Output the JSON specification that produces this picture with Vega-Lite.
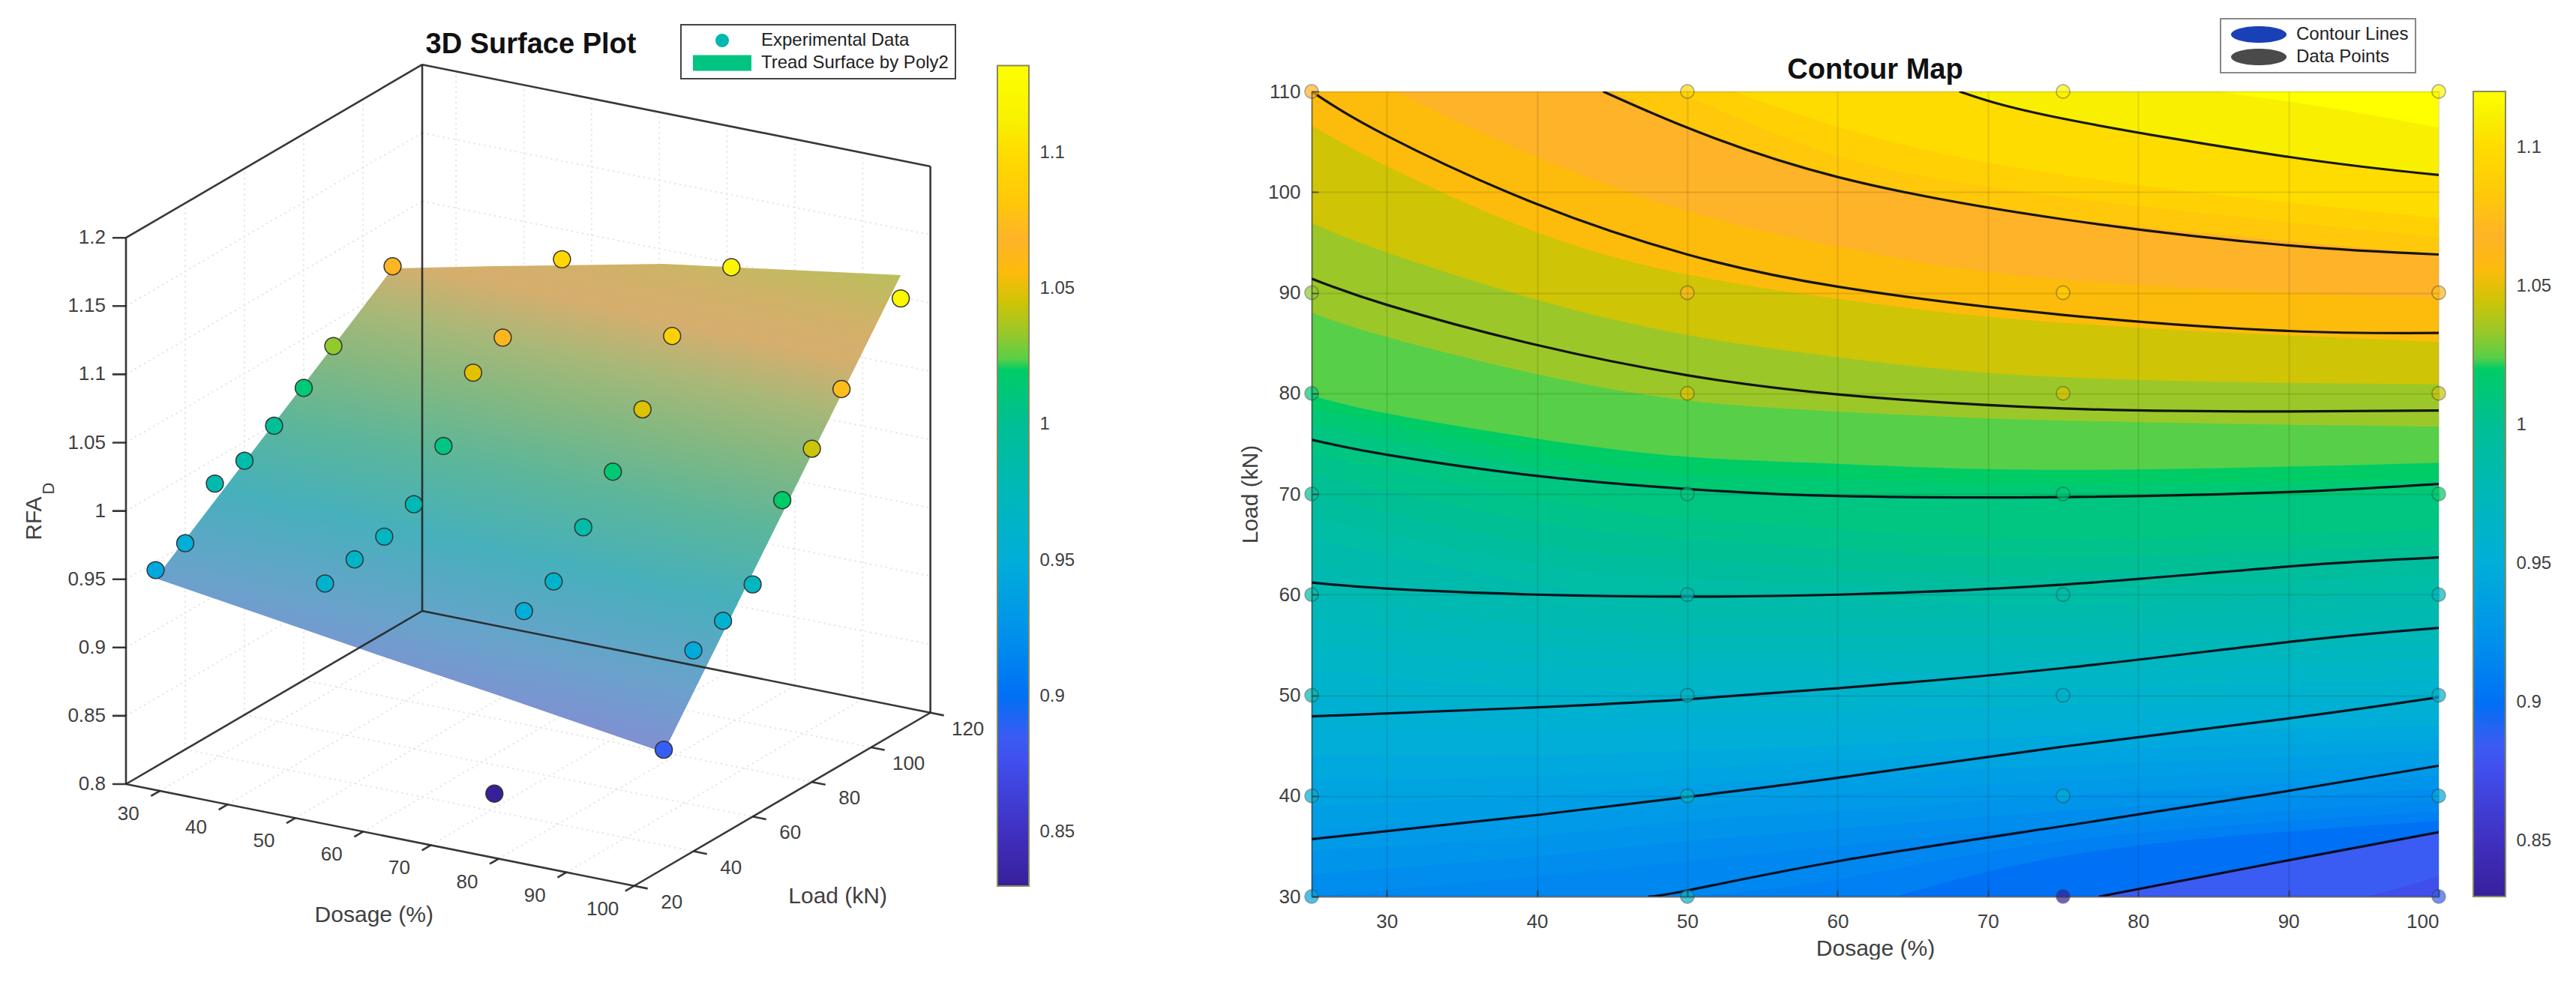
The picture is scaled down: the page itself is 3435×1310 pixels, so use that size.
{
"$schema":"https://vega.github.io/schema/vega-lite/v6.json",
"padding":0,
"background":"white",
"bounds":"flush",
"spacing":46,
"resolve":{"scale":{"fill":"independent","color":"independent"},"legend":{"fill":"independent","color":"independent"}},
"config":{"font":"Liberation Sans","view":{"stroke":null},"axis":{"labelFontSize":26,"labelColor":"#404040","titleFontSize":30,"titleColor":"#404040","titleFontWeight":"normal"}},
"datasets":{
"points":[
{"dosage":25,"load":30,"rfa":0.944},{"dosage":25,"load":40,"rfa":0.951},{"dosage":25,"load":50,"rfa":0.982},{"dosage":25,"load":60,"rfa":0.986},{"dosage":25,"load":70,"rfa":0.999},{"dosage":25,"load":80,"rfa":1.014},{"dosage":25,"load":90,"rfa":1.032},{"dosage":25,"load":110,"rfa":1.065},
{"dosage":50,"load":30,"rfa":0.959},{"dosage":50,"load":40,"rfa":0.964},{"dosage":50,"load":50,"rfa":0.968},{"dosage":50,"load":60,"rfa":0.979},{"dosage":50,"load":70,"rfa":1.009},{"dosage":50,"load":80,"rfa":1.05},{"dosage":50,"load":90,"rfa":1.063},{"dosage":50,"load":110,"rfa":1.095},
{"dosage":75,"load":30,"rfa":0.83},{"dosage":75,"load":40,"rfa":0.951},{"dosage":75,"load":50,"rfa":0.96},{"dosage":75,"load":60,"rfa":0.987},{"dosage":75,"load":70,"rfa":1.015},{"dosage":75,"load":80,"rfa":1.048},{"dosage":75,"load":90,"rfa":1.089},{"dosage":75,"load":110,"rfa":1.114},
{"dosage":100,"load":30,"rfa":0.887},{"dosage":100,"load":40,"rfa":0.947},{"dosage":100,"load":50,"rfa":0.956},{"dosage":100,"load":60,"rfa":0.97},{"dosage":100,"load":70,"rfa":1.019},{"dosage":100,"load":80,"rfa":1.044},{"dosage":100,"load":90,"rfa":1.075},{"dosage":100,"load":110,"rfa":1.116}],
"surface":[
{"dosage":25,"load":30,"rfa":0.938,"dosage2":25,"load2":30,"rfa2":0.938},
{"dosage":25,"load":110,"rfa":1.0635,"dosage2":60,"load2":30,"rfa2":0.913},
{"dosage":40,"load":110,"rfa":1.08,"dosage2":75,"load2":30,"rfa2":0.903},
{"dosage":65,"load":110,"rfa":1.1065,"dosage2":100,"load2":30,"rfa2":0.885},
{"dosage":100,"load":110,"rfa":1.133,"dosage2":100,"load2":110,"rfa2":1.133}],
"edges":[
{"dosage":25,"load":20,"rfa":0.8,"dosage2":25,"load2":20,"rfa2":1.2},
{"dosage":25,"load":120,"rfa":0.8,"dosage2":25,"load2":120,"rfa2":1.2},
{"dosage":100,"load":120,"rfa":0.8,"dosage2":100,"load2":120,"rfa2":1.2},
{"dosage":25,"load":20,"rfa":1.2,"dosage2":25,"load2":120,"rfa2":1.2},
{"dosage":25,"load":120,"rfa":1.2,"dosage2":100,"load2":120,"rfa2":1.2},
{"dosage":25,"load":20,"rfa":0.8,"dosage2":100,"load2":20,"rfa2":0.8},
{"dosage":100,"load":20,"rfa":0.8,"dosage2":100,"load2":120,"rfa2":0.8},
{"dosage":25,"load":120,"rfa":0.8,"dosage2":100,"load2":120,"rfa2":0.8},
{"dosage":25,"load":20,"rfa":0.8,"dosage2":25,"load2":120,"rfa2":0.8},
{"dosage":30,"load":20,"rfa":0.8,"dosage2":30,"load2":17,"rfa2":0.8},{"dosage":40,"load":20,"rfa":0.8,"dosage2":40,"load2":17,"rfa2":0.8},{"dosage":50,"load":20,"rfa":0.8,"dosage2":50,"load2":17,"rfa2":0.8},{"dosage":60,"load":20,"rfa":0.8,"dosage2":60,"load2":17,"rfa2":0.8},{"dosage":70,"load":20,"rfa":0.8,"dosage2":70,"load2":17,"rfa2":0.8},{"dosage":80,"load":20,"rfa":0.8,"dosage2":80,"load2":17,"rfa2":0.8},{"dosage":90,"load":20,"rfa":0.8,"dosage2":90,"load2":17,"rfa2":0.8},{"dosage":100,"load":20,"rfa":0.8,"dosage2":100,"load2":17,"rfa2":0.8},
{"dosage":100,"load":20,"rfa":0.8,"dosage2":102,"load2":20,"rfa2":0.8},{"dosage":100,"load":40,"rfa":0.8,"dosage2":102,"load2":40,"rfa2":0.8},{"dosage":100,"load":60,"rfa":0.8,"dosage2":102,"load2":60,"rfa2":0.8},{"dosage":100,"load":80,"rfa":0.8,"dosage2":102,"load2":80,"rfa2":0.8},{"dosage":100,"load":100,"rfa":0.8,"dosage2":102,"load2":100,"rfa2":0.8},{"dosage":100,"load":120,"rfa":0.8,"dosage2":102,"load2":120,"rfa2":0.8},
{"dosage":25,"load":20,"rfa":0.8,"dosage2":23,"load2":20,"rfa2":0.798},{"dosage":25,"load":20,"rfa":0.85,"dosage2":23,"load2":20,"rfa2":0.848},{"dosage":25,"load":20,"rfa":0.9,"dosage2":23,"load2":20,"rfa2":0.898},{"dosage":25,"load":20,"rfa":0.95,"dosage2":23,"load2":20,"rfa2":0.948},{"dosage":25,"load":20,"rfa":1,"dosage2":23,"load2":20,"rfa2":0.998},{"dosage":25,"load":20,"rfa":1.05,"dosage2":23,"load2":20,"rfa2":1.048},{"dosage":25,"load":20,"rfa":1.1,"dosage2":23,"load2":20,"rfa2":1.098},{"dosage":25,"load":20,"rfa":1.15,"dosage2":23,"load2":20,"rfa2":1.148},{"dosage":25,"load":20,"rfa":1.2,"dosage2":23,"load2":20,"rfa2":1.198}],
"grid3d":[
{"dosage":30,"load":20,"rfa":0.8,"dosage2":30,"load2":120,"rfa2":0.8},{"dosage":40,"load":20,"rfa":0.8,"dosage2":40,"load2":120,"rfa2":0.8},{"dosage":50,"load":20,"rfa":0.8,"dosage2":50,"load2":120,"rfa2":0.8},{"dosage":60,"load":20,"rfa":0.8,"dosage2":60,"load2":120,"rfa2":0.8},{"dosage":70,"load":20,"rfa":0.8,"dosage2":70,"load2":120,"rfa2":0.8},{"dosage":80,"load":20,"rfa":0.8,"dosage2":80,"load2":120,"rfa2":0.8},{"dosage":90,"load":20,"rfa":0.8,"dosage2":90,"load2":120,"rfa2":0.8},
{"dosage":30,"load":120,"rfa":0.8,"dosage2":30,"load2":120,"rfa2":1.2},{"dosage":40,"load":120,"rfa":0.8,"dosage2":40,"load2":120,"rfa2":1.2},{"dosage":50,"load":120,"rfa":0.8,"dosage2":50,"load2":120,"rfa2":1.2},{"dosage":60,"load":120,"rfa":0.8,"dosage2":60,"load2":120,"rfa2":1.2},{"dosage":70,"load":120,"rfa":0.8,"dosage2":70,"load2":120,"rfa2":1.2},{"dosage":80,"load":120,"rfa":0.8,"dosage2":80,"load2":120,"rfa2":1.2},{"dosage":90,"load":120,"rfa":0.8,"dosage2":90,"load2":120,"rfa2":1.2},
{"dosage":25,"load":40,"rfa":0.8,"dosage2":100,"load2":40,"rfa2":0.8},{"dosage":25,"load":60,"rfa":0.8,"dosage2":100,"load2":60,"rfa2":0.8},{"dosage":25,"load":80,"rfa":0.8,"dosage2":100,"load2":80,"rfa2":0.8},{"dosage":25,"load":100,"rfa":0.8,"dosage2":100,"load2":100,"rfa2":0.8},
{"dosage":25,"load":40,"rfa":0.8,"dosage2":25,"load2":40,"rfa2":1.2},{"dosage":25,"load":60,"rfa":0.8,"dosage2":25,"load2":60,"rfa2":1.2},{"dosage":25,"load":80,"rfa":0.8,"dosage2":25,"load2":80,"rfa2":1.2},{"dosage":25,"load":100,"rfa":0.8,"dosage2":25,"load2":100,"rfa2":1.2},
{"dosage":25,"load":20,"rfa":0.85,"dosage2":25,"load2":120,"rfa2":0.85},{"dosage":25,"load":20,"rfa":0.9,"dosage2":25,"load2":120,"rfa2":0.9},{"dosage":25,"load":20,"rfa":0.95,"dosage2":25,"load2":120,"rfa2":0.95},{"dosage":25,"load":20,"rfa":1,"dosage2":25,"load2":120,"rfa2":1},{"dosage":25,"load":20,"rfa":1.05,"dosage2":25,"load2":120,"rfa2":1.05},{"dosage":25,"load":20,"rfa":1.1,"dosage2":25,"load2":120,"rfa2":1.1},{"dosage":25,"load":20,"rfa":1.15,"dosage2":25,"load2":120,"rfa2":1.15},
{"dosage":25,"load":120,"rfa":0.85,"dosage2":100,"load2":120,"rfa2":0.85},{"dosage":25,"load":120,"rfa":0.9,"dosage2":100,"load2":120,"rfa2":0.9},{"dosage":25,"load":120,"rfa":0.95,"dosage2":100,"load2":120,"rfa2":0.95},{"dosage":25,"load":120,"rfa":1,"dosage2":100,"load2":120,"rfa2":1},{"dosage":25,"load":120,"rfa":1.05,"dosage2":100,"load2":120,"rfa2":1.05},{"dosage":25,"load":120,"rfa":1.1,"dosage2":100,"load2":120,"rfa2":1.1},{"dosage":25,"load":120,"rfa":1.15,"dosage2":100,"load2":120,"rfa2":1.15}],
"zlabels":[{"label":"0.8","dosage":25,"load":20,"rfa":0.8},{"label":"0.85","dosage":25,"load":20,"rfa":0.85},{"label":"0.9","dosage":25,"load":20,"rfa":0.9},{"label":"0.95","dosage":25,"load":20,"rfa":0.95},{"label":"1","dosage":25,"load":20,"rfa":1},{"label":"1.05","dosage":25,"load":20,"rfa":1.05},{"label":"1.1","dosage":25,"load":20,"rfa":1.1},{"label":"1.15","dosage":25,"load":20,"rfa":1.15},{"label":"1.2","dosage":25,"load":20,"rfa":1.2}],
"dlabels":[{"label":"30","dosage":30,"load":20,"rfa":0.8},{"label":"40","dosage":40,"load":20,"rfa":0.8},{"label":"50","dosage":50,"load":20,"rfa":0.8},{"label":"60","dosage":60,"load":20,"rfa":0.8},{"label":"70","dosage":70,"load":20,"rfa":0.8},{"label":"80","dosage":80,"load":20,"rfa":0.8},{"label":"90","dosage":90,"load":20,"rfa":0.8},{"label":"100","dosage":100,"load":20,"rfa":0.8}],
"llabels":[{"label":"20","dosage":100,"load":20,"rfa":0.8},{"label":"40","dosage":100,"load":40,"rfa":0.8},{"label":"60","dosage":100,"load":60,"rfa":0.8},{"label":"80","dosage":100,"load":80,"rfa":0.8},{"label":"100","dosage":100,"load":100,"rfa":0.8},{"label":"120","dosage":100,"load":120,"rfa":0.8}],
"contours":[
{"line":1,"dosage":77.4,"load":30},{"line":1,"dosage":90,"load":33.6},{"line":1,"dosage":100,"load":36.4},
{"line":2,"dosage":47.4,"load":30},{"line":2,"dosage":50,"load":30.6},{"line":2,"dosage":60,"load":33.5},{"line":2,"dosage":75,"load":37},{"line":2,"dosage":90,"load":40.5},{"line":2,"dosage":100,"load":43},
{"line":3,"dosage":25,"load":35.7},{"line":3,"dosage":40,"load":38.1},{"line":3,"dosage":50,"load":39.9},{"line":3,"dosage":60,"load":41.8},{"line":3,"dosage":75,"load":44.9},{"line":3,"dosage":90,"load":47.7},{"line":3,"dosage":100,"load":49.8},
{"line":4,"dosage":25,"load":47.9},{"line":4,"dosage":40,"load":48.8},{"line":4,"dosage":50,"load":49.6},{"line":4,"dosage":60,"load":50.7},{"line":4,"dosage":75,"load":52.7},{"line":4,"dosage":90,"load":55.3},{"line":4,"dosage":100,"load":56.7},
{"line":5,"dosage":25,"load":61.2},{"line":5,"dosage":30,"load":60.6},{"line":5,"dosage":40,"load":60},{"line":5,"dosage":50,"load":59.8},{"line":5,"dosage":60,"load":60},{"line":5,"dosage":75,"load":61},{"line":5,"dosage":90,"load":62.8},{"line":5,"dosage":100,"load":63.7},
{"line":6,"dosage":25,"load":75.4},{"line":6,"dosage":30,"load":73.9},{"line":6,"dosage":40,"load":71.8},{"line":6,"dosage":50,"load":70.5},{"line":6,"dosage":60,"load":69.8},{"line":6,"dosage":75,"load":69.7},{"line":6,"dosage":90,"load":70.2},{"line":6,"dosage":100,"load":71},
{"line":7,"dosage":25,"load":91.4},{"line":7,"dosage":30,"load":88.8},{"line":7,"dosage":40,"load":84.8},{"line":7,"dosage":50,"load":81.8},{"line":7,"dosage":60,"load":79.9},{"line":7,"dosage":75,"load":78.5},{"line":7,"dosage":90,"load":78.2},{"line":7,"dosage":100,"load":78.3},
{"line":8,"dosage":25,"load":110},{"line":8,"dosage":30,"load":105.6},{"line":8,"dosage":40,"load":98.8},{"line":8,"dosage":50,"load":93.8},{"line":8,"dosage":60,"load":90.6},{"line":8,"dosage":75,"load":87.8},{"line":8,"dosage":90,"load":86.2},{"line":8,"dosage":100,"load":86},
{"line":9,"dosage":44.4,"load":110},{"line":9,"dosage":50,"load":106.4},{"line":9,"dosage":60,"load":101.5},{"line":9,"dosage":75,"load":97.3},{"line":9,"dosage":90,"load":94.7},{"line":9,"dosage":100,"load":93.8},
{"line":10,"dosage":68.1,"load":110},{"line":10,"dosage":75,"load":107.3},{"line":10,"dosage":90,"load":103.5},{"line":10,"dosage":100,"load":101.7}],
"levels":[
{"rfa":0.875,"dosage":25,"load":0},{"rfa":0.875,"dosage":100,"load":0},
{"rfa":0.885,"dosage":25,"load":4},{"rfa":0.885,"dosage":50,"load":10},{"rfa":0.885,"dosage":75,"load":21},{"rfa":0.885,"dosage":100,"load":32},
{"rfa":0.9,"dosage":25,"load":12},{"rfa":0.9,"dosage":50,"load":19},{"rfa":0.9,"dosage":60,"load":23},{"rfa":0.9,"dosage":75,"load":29.3},{"rfa":0.9,"dosage":90,"load":33.6},{"rfa":0.9,"dosage":100,"load":36.4},
{"rfa":0.91,"dosage":25,"load":22},{"rfa":0.91,"dosage":40,"load":25},{"rfa":0.91,"dosage":50,"load":27},{"rfa":0.91,"dosage":60,"load":28.5},{"rfa":0.91,"dosage":75,"load":34},{"rfa":0.91,"dosage":100,"load":37.5},
{"rfa":0.915,"dosage":25,"load":26},{"rfa":0.915,"dosage":40,"load":28.5},{"rfa":0.915,"dosage":50,"load":30},{"rfa":0.915,"dosage":60,"load":31.7},{"rfa":0.915,"dosage":75,"load":35.5},{"rfa":0.915,"dosage":100,"load":38.5},
{"rfa":0.92,"dosage":25,"load":30},{"rfa":0.92,"dosage":40,"load":32},{"rfa":0.92,"dosage":50,"load":33.5},{"rfa":0.92,"dosage":60,"load":35},{"rfa":0.92,"dosage":75,"load":37},{"rfa":0.92,"dosage":100,"load":39.5},
{"rfa":0.925,"dosage":25,"load":32.2},{"rfa":0.925,"dosage":40,"load":34},{"rfa":0.925,"dosage":50,"load":35.5},{"rfa":0.925,"dosage":60,"load":36.7},{"rfa":0.925,"dosage":75,"load":38.5},{"rfa":0.925,"dosage":100,"load":40.7},
{"rfa":0.93,"dosage":25,"load":34.5},{"rfa":0.93,"dosage":40,"load":36},{"rfa":0.93,"dosage":50,"load":37.5},{"rfa":0.93,"dosage":60,"load":38.5},{"rfa":0.93,"dosage":75,"load":40},{"rfa":0.93,"dosage":100,"load":42},
{"rfa":0.935,"dosage":25,"load":36.7},{"rfa":0.935,"dosage":40,"load":38},{"rfa":0.935,"dosage":50,"load":39.2},{"rfa":0.935,"dosage":60,"load":40.2},{"rfa":0.935,"dosage":75,"load":41.5},{"rfa":0.935,"dosage":100,"load":43.2},
{"rfa":0.94,"dosage":25,"load":39},{"rfa":0.94,"dosage":40,"load":40},{"rfa":0.94,"dosage":50,"load":41},{"rfa":0.94,"dosage":60,"load":42},{"rfa":0.94,"dosage":75,"load":43},{"rfa":0.94,"dosage":100,"load":44.5},
{"rfa":0.945,"dosage":25,"load":41.5},{"rfa":0.945,"dosage":40,"load":42},{"rfa":0.945,"dosage":50,"load":42.7},{"rfa":0.945,"dosage":60,"load":43.5},{"rfa":0.945,"dosage":75,"load":44.5},{"rfa":0.945,"dosage":100,"load":45.7},
{"rfa":0.95,"dosage":25,"load":44},{"rfa":0.95,"dosage":40,"load":44},{"rfa":0.95,"dosage":50,"load":44.5},{"rfa":0.95,"dosage":60,"load":45},{"rfa":0.95,"dosage":75,"load":46},{"rfa":0.95,"dosage":100,"load":47},
{"rfa":0.955,"dosage":25,"load":47},{"rfa":0.955,"dosage":40,"load":46.2},{"rfa":0.955,"dosage":50,"load":46.5},{"rfa":0.955,"dosage":60,"load":46.7},{"rfa":0.955,"dosage":75,"load":47.5},{"rfa":0.955,"dosage":100,"load":48.5},
{"rfa":0.96,"dosage":25,"load":50},{"rfa":0.96,"dosage":40,"load":48.5},{"rfa":0.96,"dosage":50,"load":48.5},{"rfa":0.96,"dosage":60,"load":48.5},{"rfa":0.96,"dosage":75,"load":49},{"rfa":0.96,"dosage":100,"load":50},
{"rfa":0.965,"dosage":25,"load":52.5},{"rfa":0.965,"dosage":40,"load":50.7},{"rfa":0.965,"dosage":50,"load":50.5},{"rfa":0.965,"dosage":60,"load":50.5},{"rfa":0.965,"dosage":75,"load":50.7},{"rfa":0.965,"dosage":100,"load":51.7},
{"rfa":0.97,"dosage":25,"load":55},{"rfa":0.97,"dosage":40,"load":53},{"rfa":0.97,"dosage":50,"load":52.5},{"rfa":0.97,"dosage":60,"load":52.5},{"rfa":0.97,"dosage":75,"load":52.5},{"rfa":0.97,"dosage":100,"load":53.5},
{"rfa":0.975,"dosage":25,"load":57.5},{"rfa":0.975,"dosage":40,"load":55},{"rfa":0.975,"dosage":50,"load":54.2},{"rfa":0.975,"dosage":60,"load":54.2},{"rfa":0.975,"dosage":75,"load":54.2},{"rfa":0.975,"dosage":100,"load":55.2},
{"rfa":0.98,"dosage":25,"load":60},{"rfa":0.98,"dosage":40,"load":57},{"rfa":0.98,"dosage":50,"load":56},{"rfa":0.98,"dosage":60,"load":56},{"rfa":0.98,"dosage":75,"load":56},{"rfa":0.98,"dosage":100,"load":57},
{"rfa":0.985,"dosage":25,"load":62.7},{"rfa":0.985,"dosage":40,"load":59},{"rfa":0.985,"dosage":50,"load":57.7},{"rfa":0.985,"dosage":60,"load":57.7},{"rfa":0.985,"dosage":75,"load":57.5},{"rfa":0.985,"dosage":100,"load":58.7},
{"rfa":0.99,"dosage":25,"load":65.5},{"rfa":0.99,"dosage":40,"load":61},{"rfa":0.99,"dosage":50,"load":59.5},{"rfa":0.99,"dosage":60,"load":59.5},{"rfa":0.99,"dosage":75,"load":59},{"rfa":0.99,"dosage":100,"load":60.5},
{"rfa":0.995,"dosage":25,"load":67.7},{"rfa":0.995,"dosage":40,"load":63},{"rfa":0.995,"dosage":50,"load":61.5},{"rfa":0.995,"dosage":60,"load":61},{"rfa":0.995,"dosage":75,"load":60.5},{"rfa":0.995,"dosage":100,"load":62},
{"rfa":1,"dosage":25,"load":70},{"rfa":1,"dosage":40,"load":65},{"rfa":1,"dosage":50,"load":63.5},{"rfa":1,"dosage":60,"load":62.5},{"rfa":1,"dosage":75,"load":62},{"rfa":1,"dosage":100,"load":63.5},
{"rfa":1.005,"dosage":25,"load":72},{"rfa":1.005,"dosage":40,"load":67.2},{"rfa":1.005,"dosage":50,"load":65.5},{"rfa":1.005,"dosage":60,"load":64.5},{"rfa":1.005,"dosage":75,"load":63.7},{"rfa":1.005,"dosage":100,"load":65},
{"rfa":1.01,"dosage":25,"load":74},{"rfa":1.01,"dosage":40,"load":69.5},{"rfa":1.01,"dosage":50,"load":67.5},{"rfa":1.01,"dosage":60,"load":66.5},{"rfa":1.01,"dosage":75,"load":65.5},{"rfa":1.01,"dosage":100,"load":66.5},
{"rfa":1.015,"dosage":25,"load":77},{"rfa":1.015,"dosage":40,"load":72.5},{"rfa":1.015,"dosage":50,"load":70.5},{"rfa":1.015,"dosage":60,"load":70},{"rfa":1.015,"dosage":75,"load":69.5},{"rfa":1.015,"dosage":100,"load":70},
{"rfa":1.02,"dosage":25,"load":78.5},{"rfa":1.02,"dosage":40,"load":74},{"rfa":1.02,"dosage":50,"load":72},{"rfa":1.02,"dosage":60,"load":71.5},{"rfa":1.02,"dosage":75,"load":71},{"rfa":1.02,"dosage":100,"load":71.5},
{"rfa":1.024,"dosage":25,"load":79.8},{"rfa":1.024,"dosage":30,"load":78},{"rfa":1.024,"dosage":40,"load":75.5},{"rfa":1.024,"dosage":50,"load":73.7},{"rfa":1.024,"dosage":60,"load":73},{"rfa":1.024,"dosage":75,"load":72.4},{"rfa":1.024,"dosage":100,"load":73.1},
{"rfa":1.034,"dosage":25,"load":88},{"rfa":1.034,"dosage":30,"load":85.6},{"rfa":1.034,"dosage":40,"load":81.9},{"rfa":1.034,"dosage":50,"load":79.3},{"rfa":1.034,"dosage":60,"load":78.2},{"rfa":1.034,"dosage":75,"load":77.3},{"rfa":1.034,"dosage":100,"load":76.7},
{"rfa":1.045,"dosage":25,"load":96.9},{"rfa":1.045,"dosage":30,"load":94},{"rfa":1.045,"dosage":40,"load":89.3},{"rfa":1.045,"dosage":50,"load":85.8},{"rfa":1.045,"dosage":60,"load":83.6},{"rfa":1.045,"dosage":75,"load":81.6},{"rfa":1.045,"dosage":100,"load":80.9},
{"rfa":1.056,"dosage":25,"load":106.6},{"rfa":1.056,"dosage":30,"load":102.6},{"rfa":1.056,"dosage":40,"load":96},{"rfa":1.056,"dosage":50,"load":91.8},{"rfa":1.056,"dosage":60,"load":89.4},{"rfa":1.056,"dosage":75,"load":87},{"rfa":1.056,"dosage":100,"load":85.1},
{"rfa":1.068,"dosage":25,"load":115},{"rfa":1.068,"dosage":30,"load":110.5},{"rfa":1.068,"dosage":40,"load":103.5},{"rfa":1.068,"dosage":50,"load":98.1},{"rfa":1.068,"dosage":60,"load":94.6},{"rfa":1.068,"dosage":75,"load":91.3},{"rfa":1.068,"dosage":100,"load":89.5},
{"rfa":1.082,"dosage":25,"load":128},{"rfa":1.082,"dosage":30,"load":123},{"rfa":1.082,"dosage":40,"load":114},{"rfa":1.082,"dosage":50,"load":106.4},{"rfa":1.082,"dosage":60,"load":101.4},{"rfa":1.082,"dosage":75,"load":97.4},{"rfa":1.082,"dosage":100,"load":93.8},
{"rfa":1.09,"dosage":25,"load":135},{"rfa":1.09,"dosage":40,"load":117},{"rfa":1.09,"dosage":50,"load":109.5},{"rfa":1.09,"dosage":60,"load":103.6},{"rfa":1.09,"dosage":75,"load":99.5},{"rfa":1.09,"dosage":100,"load":95.5},
{"rfa":1.1,"dosage":25,"load":140},{"rfa":1.1,"dosage":40,"load":121},{"rfa":1.1,"dosage":50,"load":112},{"rfa":1.1,"dosage":60,"load":106.5},{"rfa":1.1,"dosage":75,"load":101.7},{"rfa":1.1,"dosage":100,"load":97.4},
{"rfa":1.111,"dosage":25,"load":150},{"rfa":1.111,"dosage":50,"load":122},{"rfa":1.111,"dosage":60,"load":113.5},{"rfa":1.111,"dosage":75,"load":107.3},{"rfa":1.111,"dosage":90,"load":103.5},{"rfa":1.111,"dosage":100,"load":101.7},
{"rfa":1.12,"dosage":25,"load":160},{"rfa":1.12,"dosage":50,"load":135},{"rfa":1.12,"dosage":60,"load":122},{"rfa":1.12,"dosage":75,"load":113},{"rfa":1.12,"dosage":90,"load":109},{"rfa":1.12,"dosage":100,"load":106.4}]
},
"hconcat":[
{
"width":1284,"height":1074,
"layer":[
{"data":{"values":[{"a":0,"b":0}]},"mark":{"type":"rule","opacity":0},"encoding":{"x":{"datum":0,"type":"quantitative","scale":{"domain":[0,1284],"nice":false,"zero":false},"axis":null},"y":{"datum":0,"type":"quantitative","scale":{"domain":[122,1196],"reverse":true,"nice":false,"zero":false},"axis":null},"x2":{"datum":2},"y2":{"datum":2}}},
{"data":{"name":"grid3d"},"transform":[{"calculate":"168+(datum.dosage-25)*9.035+(datum.load-20)*3.95","as":"u"},{"calculate":"1046+(datum.dosage-25)*1.81-(datum.load-20)*2.31-(datum.rfa-0.8)*1822","as":"v"},{"calculate":"168+(datum.dosage2-25)*9.035+(datum.load2-20)*3.95","as":"u2"},{"calculate":"1046+(datum.dosage2-25)*1.81-(datum.load2-20)*2.31-(datum.rfa2-0.8)*1822","as":"v2"}],
"mark":{"type":"rule","color":"#e2e2e2","strokeWidth":2,"strokeDash":[2,5]},"encoding":{"x":{"field":"u","type":"quantitative"},"y":{"field":"v","type":"quantitative"},"x2":{"field":"u2"},"y2":{"field":"v2"}}},
{"data":{"name":"surface"},"transform":[{"calculate":"168+(datum.dosage-25)*9.035+(datum.load-20)*3.95","as":"u"},{"calculate":"1046+(datum.dosage-25)*1.81-(datum.load-20)*2.31-(datum.rfa-0.8)*1822","as":"v"},{"calculate":"1046+(datum.dosage2-25)*1.81-(datum.load2-20)*2.31-(datum.rfa2-0.8)*1822","as":"v2"}],
"mark":{"type":"area","color":{"gradient":"linear","x1":0.3,"y1":1,"x2":0.66,"y2":-0.08,"stops":[{"offset":0,"color":"#8a8cd4"},{"offset":0.113,"color":"#8090d2"},{"offset":0.228,"color":"#6aa2cc"},{"offset":0.39,"color":"#46b0bb"},{"offset":0.53,"color":"#5cb69a"},{"offset":0.656,"color":"#85b880"},{"offset":0.75,"color":"#a8b878"},{"offset":0.845,"color":"#d6ae6e"},{"offset":0.92,"color":"#d0b268"},{"offset":1,"color":"#bcbd5e"}]}},
"encoding":{"x":{"field":"u","type":"quantitative"},"y":{"field":"v","type":"quantitative"},"y2":{"field":"v2"}}},
{"data":{"name":"edges"},"transform":[{"calculate":"168+(datum.dosage-25)*9.035+(datum.load-20)*3.95","as":"u"},{"calculate":"1046+(datum.dosage-25)*1.81-(datum.load-20)*2.31-(datum.rfa-0.8)*1822","as":"v"},{"calculate":"168+(datum.dosage2-25)*9.035+(datum.load2-20)*3.95","as":"u2"},{"calculate":"1046+(datum.dosage2-25)*1.81-(datum.load2-20)*2.31-(datum.rfa2-0.8)*1822","as":"v2"}],
"mark":{"type":"rule","color":"#222","strokeWidth":2.6,"opacity":0.9},"encoding":{"x":{"field":"u","type":"quantitative"},"y":{"field":"v","type":"quantitative"},"x2":{"field":"u2"},"y2":{"field":"v2"}}},
{"data":{"name":"points"},"transform":[{"calculate":"168+(datum.dosage-25)*9.035+(datum.load-20)*3.95","as":"u"},{"calculate":"1046+(datum.dosage-25)*1.81-(datum.load-20)*2.31-(datum.rfa-0.8)*1822","as":"v"}],
"mark":{"type":"point","filled":true,"size":520,"stroke":"#333","strokeWidth":1.5,"opacity":1},"encoding":{"x":{"field":"u","type":"quantitative"},"y":{"field":"v","type":"quantitative"},"color":{"field":"rfa","type":"quantitative","legend":null,"scale":{"type":"linear","domain":[0.83,0.85,0.877,0.885,0.9,0.922,0.95,0.975,1,1.02,1.024,1.034,1.045,1.056,1.068,1.082,1.1,1.111,1.12],"range":["#37209a","#4030c0","#4050ef","#3a5cf2","#0070f5","#0090ec","#00aed8","#00b8b8","#00bf95","#00cc66","#58cf48","#9bc828","#cfc406","#fdbb0c","#ffb328","#ffc80a","#ffdc00","#f8f000","#ffff00"]}}}},
{"data":{"name":"zlabels"},"transform":[{"calculate":"168+(datum.dosage-25)*9.035+(datum.load-20)*3.95","as":"u"},{"calculate":"1046+(datum.dosage-25)*1.81-(datum.load-20)*2.31-(datum.rfa-0.8)*1822","as":"v"}],
"mark":{"type":"text","align":"right","baseline":"middle","dx":-27,"fontSize":26,"color":"#404040"},"encoding":{"x":{"field":"u","type":"quantitative"},"y":{"field":"v","type":"quantitative"},"text":{"field":"label"}}},
{"data":{"name":"dlabels"},"transform":[{"calculate":"168+(datum.dosage-25)*9.035+(datum.load-20)*3.95","as":"u"},{"calculate":"1046+(datum.dosage-25)*1.81-(datum.load-20)*2.31-(datum.rfa-0.8)*1822","as":"v"}],
"mark":{"type":"text","align":"center","baseline":"middle","dx":-42,"dy":31,"fontSize":26,"color":"#404040"},"encoding":{"x":{"field":"u","type":"quantitative"},"y":{"field":"v","type":"quantitative"},"text":{"field":"label"}}},
{"data":{"name":"llabels"},"transform":[{"calculate":"168+(datum.dosage-25)*9.035+(datum.load-20)*3.95","as":"u"},{"calculate":"1046+(datum.dosage-25)*1.81-(datum.load-20)*2.31-(datum.rfa-0.8)*1822","as":"v"}],
"mark":{"type":"text","align":"center","baseline":"middle","dx":50,"dy":22,"fontSize":26,"color":"#404040"},"encoding":{"x":{"field":"u","type":"quantitative"},"y":{"field":"v","type":"quantitative"},"text":{"field":"label"}}},
{"data":{"values":[{"label":"Dosage (%)","dosage":62.5,"load":20,"rfa":0.8}]},"transform":[{"calculate":"168+(datum.dosage-25)*9.035+(datum.load-20)*3.95","as":"u"},{"calculate":"1046+(datum.dosage-25)*1.81-(datum.load-20)*2.31-(datum.rfa-0.8)*1822","as":"v"}],
"mark":{"type":"text","align":"center","baseline":"middle","dx":-8,"dy":107,"fontSize":30,"color":"#404040"},"encoding":{"x":{"field":"u","type":"quantitative"},"y":{"field":"v","type":"quantitative"},"text":{"field":"label"}}},
{"data":{"values":[{"label":"Load (kN)","dosage":100,"load":70,"rfa":0.8}]},"transform":[{"calculate":"168+(datum.dosage-25)*9.035+(datum.load-20)*3.95","as":"u"},{"calculate":"1046+(datum.dosage-25)*1.81-(datum.load-20)*2.31-(datum.rfa-0.8)*1822","as":"v"}],
"mark":{"type":"text","align":"center","baseline":"middle","dx":74,"dy":130,"fontSize":30,"color":"#404040"},"encoding":{"x":{"field":"u","type":"quantitative"},"y":{"field":"v","type":"quantitative"},"text":{"field":"label"}}},
{"data":{"values":[{"label":"RFA","dosage":25,"load":20,"rfa":1}]},"transform":[{"calculate":"168+(datum.dosage-25)*9.035+(datum.load-20)*3.95","as":"u"},{"calculate":"1046+(datum.dosage-25)*1.81-(datum.load-20)*2.31-(datum.rfa-0.8)*1822","as":"v"}],
"mark":{"type":"text","align":"center","baseline":"middle","angle":270,"dx":-10,"dy":-122,"fontSize":30,"color":"#404040"},"encoding":{"x":{"field":"u","type":"quantitative"},"y":{"field":"v","type":"quantitative"},"text":{"field":"label"}}},
{"data":{"values":[{"label":"D","dosage":25,"load":20,"rfa":1}]},"transform":[{"calculate":"168+(datum.dosage-25)*9.035+(datum.load-20)*3.95","as":"u"},{"calculate":"1046+(datum.dosage-25)*1.81-(datum.load-20)*2.31-(datum.rfa-0.8)*1822","as":"v"}],
"mark":{"type":"text","align":"center","baseline":"middle","angle":270,"dx":30,"dy":-103,"fontSize":22,"color":"#404040"},"encoding":{"x":{"field":"u","type":"quantitative"},"y":{"field":"v","type":"quantitative"},"text":{"field":"label"}}},
{"data":{"values":[{"label":"3D Surface Plot","dosage":25,"load":120,"rfa":1.2}]},"transform":[{"calculate":"168+(datum.dosage-25)*9.035+(datum.load-20)*3.95","as":"u"},{"calculate":"1046+(datum.dosage-25)*1.81-(datum.load-20)*2.31-(datum.rfa-0.8)*1822","as":"v"}],
"mark":{"type":"text","align":"center","baseline":"middle","dx":145,"dy":-26,"fontSize":38,"fontWeight":"bold","color":"#111"},"encoding":{"x":{"field":"u","type":"quantitative"},"y":{"field":"v","type":"quantitative"},"text":{"field":"label"}}},
{"data":{"values":[{"series":"Experimental Data"},{"series":"Tread Surface by Poly2"}]},
"mark":{"type":"point","filled":true,"opacity":0},
"encoding":{"fill":{"field":"series","type":"nominal","scale":{"domain":["Experimental Data","Tread Surface by Poly2"],"range":["#00b8b0","#00c480"]},
"legend":{"title":null,"orient":"none","legendX":908,"legendY":-89,"padding":9,"fillColor":"white","strokeColor":"#444","labelFontSize":24,"labelColor":"#222","labelLimit":400,"symbolSize":400,"labelOffset":40,"rowPadding":6,"symbolOpacity":1,"symbolStrokeWidth":0,"symbolOffset":34,
"encode":{"legend":{"update":{"strokeWidth":{"value":2}}},"symbols":{"update":{"shape":[{"test":"datum.value==='Experimental Data'","value":"M-0.9,0A0.9,0.9,0,1,0,0.9,0A0.9,0.9,0,1,0,-0.9,0Z"},{"value":"M-3.9,-1.05H3.9V1.05H-3.9Z"}],"opacity":{"value":1}}}}}}}}
]
},
{
"width":373,"height":1074,
"data":{"values":[{"rfa_lo":0.83,"rfa_hi":1.132}]},
"mark":{"type":"rect","stroke":"#8a8a60","strokeWidth":2,"color":{"gradient":"linear","x1":0,"y1":1,"x2":0,"y2":0,"stops":[{"offset":0,"color":"#37209a"},{"offset":0.066,"color":"#4030c0"},{"offset":0.156,"color":"#4050ef"},{"offset":0.182,"color":"#3a5cf2"},{"offset":0.232,"color":"#0070f5"},{"offset":0.305,"color":"#0090ec"},{"offset":0.397,"color":"#00aed8"},{"offset":0.48,"color":"#00b8b8"},{"offset":0.563,"color":"#00bf95"},{"offset":0.629,"color":"#00cc66"},{"offset":0.642,"color":"#58cf48"},{"offset":0.675,"color":"#9bc828"},{"offset":0.712,"color":"#cfc406"},{"offset":0.748,"color":"#fdbb0c"},{"offset":0.788,"color":"#ffb328"},{"offset":0.834,"color":"#ffc80a"},{"offset":0.894,"color":"#ffdc00"},{"offset":0.93,"color":"#f8f000"},{"offset":1,"color":"#ffff00"}]}},
"encoding":{"x":{"value":0},"x2":{"value":42},
"y":{"field":"rfa_lo","type":"quantitative","scale":{"domain":[0.83,1.132],"range":[1060,-34.5],"nice":false,"zero":false},
"axis":{"orient":"right","offset":-331,"title":null,"grid":false,"domain":false,"values":[0.85,0.9,0.95,1,1.05,1.1],"format":"~g","tickSize":-12,"tickColor":"#444","tickWidth":2,"labelPadding":26,"labelFontSize":24}},
"y2":{"field":"rfa_hi"}}
},
{
"width":1503,"height":1074,
"layer":[
{"data":{"name":"levels"},"mark":{"type":"area","clip":true,"interpolate":"natural"},
"encoding":{"x":{"field":"dosage","type":"quantitative","title":"Dosage (%)","scale":{"domain":[25,100],"nice":false,"zero":false},
"axis":{"values":[30,40,50,60,70,80,90,100],"grid":true,"gridColor":"#000","gridOpacity":0.1,"gridWidth":2,"zindex":1,"tickSize":-9,"tickColor":"#333","tickOpacity":0.7,"tickWidth":2,"labelPadding":29,"domainColor":"#333","domainOpacity":0.6,"domainWidth":2,"titlePadding":8}},
"y":{"field":"load","type":"quantitative","title":"Load (kN)","scale":{"domain":[30,110],"nice":false,"zero":false},
"axis":{"values":[30,40,50,60,70,80,90,100,110],"grid":true,"gridColor":"#000","gridOpacity":0.1,"gridWidth":2,"zindex":1,"tickSize":-9,"tickColor":"#333","tickOpacity":0.7,"tickWidth":2,"labelPadding":24,"domainColor":"#333","domainOpacity":0.6,"domainWidth":2,"titlePadding":8}},
"y2":{"datum":110},
"detail":{"field":"rfa","type":"nominal"},
"color":{"field":"rfa","type":"quantitative","legend":null,"scale":{"type":"linear","domain":[0.83,0.85,0.877,0.885,0.9,0.922,0.95,0.975,1,1.02,1.024,1.034,1.045,1.056,1.068,1.082,1.1,1.111,1.12],"range":["#37209a","#4030c0","#4050ef","#3a5cf2","#0070f5","#0090ec","#00aed8","#00b8b8","#00bf95","#00cc66","#58cf48","#9bc828","#cfc406","#fdbb0c","#ffb328","#ffc80a","#ffdc00","#f8f000","#ffff00"]}}}},
{"mark":{"type":"rule","color":"#665","strokeWidth":2,"opacity":0.6},"encoding":{"x":{"datum":100}}},
{"mark":{"type":"rule","color":"#665","strokeWidth":2,"opacity":0.6},"encoding":{"y":{"datum":110}}},
{"data":{"name":"contours"},"mark":{"type":"line","clip":true,"interpolate":"natural","color":"#050510","strokeWidth":3.2,"opacity":0.92},"encoding":{"x":{"field":"dosage","type":"quantitative"},"y":{"field":"load","type":"quantitative"},"detail":{"field":"line","type":"nominal"}}},
{"data":{"name":"points"},"mark":{"type":"point","filled":true,"size":330,"stroke":"#333","strokeWidth":1.6,"strokeOpacity":0.55},"encoding":{"x":{"field":"dosage","type":"quantitative"},"y":{"field":"load","type":"quantitative"},"color":{"field":"rfa","type":"quantitative"}}},
{"data":{"values":[{"label":"Contour Map","dosage":62.5,"load":110}]},"mark":{"type":"text","align":"center","baseline":"middle","dy":-28,"fontSize":38,"fontWeight":"bold","color":"#111"},"encoding":{"x":{"field":"dosage","type":"quantitative"},"y":{"field":"load","type":"quantitative"},"text":{"field":"label"}}},
{"data":{"values":[{"series":"Contour Lines"},{"series":"Data Points"}]},
"mark":{"type":"point","filled":true,"opacity":0},
"encoding":{"fill":{"field":"series","type":"nominal","scale":{"domain":["Contour Lines","Data Points"],"range":["#1a40b8","#4a4a4a"]},
"legend":{"title":null,"orient":"none","legendX":1212,"legendY":-97,"padding":9,"fillColor":"white","strokeColor":"#888","labelFontSize":24,"labelColor":"#222","labelLimit":400,"symbolSize":400,"symbolType":"M-3.7,0A3.7,1.1,0,1,0,3.7,0A3.7,1.1,0,1,0,-3.7,0Z","labelOffset":38,"rowPadding":6,"symbolOpacity":1,"symbolStrokeWidth":0,"symbolOffset":30,
"encode":{"legend":{"update":{"strokeWidth":{"value":2}}},"symbols":{"update":{"opacity":{"value":1}}}}}}}}
]
},
{
"width":43,"height":1074,
"data":{"values":[{"rfa_lo":0.83,"rfa_hi":1.12}]},
"mark":{"type":"rect","stroke":"#8a8a60","strokeWidth":2,"color":{"gradient":"linear","x1":0,"y1":1,"x2":0,"y2":0,"stops":[{"offset":0,"color":"#37209a"},{"offset":0.069,"color":"#4030c0"},{"offset":0.162,"color":"#4050ef"},{"offset":0.19,"color":"#3a5cf2"},{"offset":0.241,"color":"#0070f5"},{"offset":0.317,"color":"#0090ec"},{"offset":0.414,"color":"#00aed8"},{"offset":0.5,"color":"#00b8b8"},{"offset":0.586,"color":"#00bf95"},{"offset":0.655,"color":"#00cc66"},{"offset":0.669,"color":"#58cf48"},{"offset":0.703,"color":"#9bc828"},{"offset":0.741,"color":"#cfc406"},{"offset":0.779,"color":"#fdbb0c"},{"offset":0.821,"color":"#ffb328"},{"offset":0.869,"color":"#ffc80a"},{"offset":0.931,"color":"#ffdc00"},{"offset":0.969,"color":"#f8f000"},{"offset":1,"color":"#ffff00"}]}},
"encoding":{"x":{"value":0},"x2":{"value":43},
"y":{"field":"rfa_lo","type":"quantitative","scale":{"domain":[0.83,1.12],"nice":false,"zero":false},
"axis":{"orient":"right","title":null,"grid":false,"domain":false,"values":[0.85,0.9,0.95,1,1.05,1.1],"format":"~g","tickSize":-12,"tickColor":"#444","tickWidth":2,"labelPadding":26,"labelFontSize":24}},
"y2":{"field":"rfa_hi"}}
}
]
}
